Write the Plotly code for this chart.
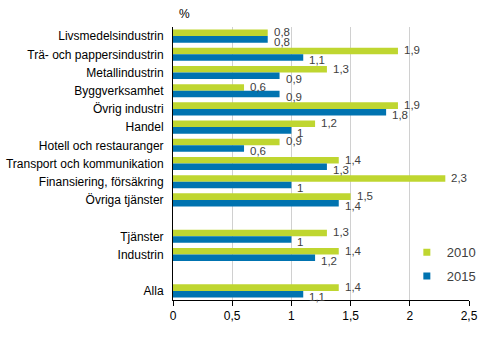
import plotly.graph_objects as go

categories = ["Livsmedelsindustrin", "Trä- och pappersindustrin", "Metallindustrin",
              "Byggverksamhet", "Övrig industri", "Handel", "Hotell och restauranger",
              "Transport och kommunikation", "Finansiering, försäkring", "Övriga tjänster",
              " ", "Tjänster", "Industrin", "  ", "Alla"]
v2010 = [0.8, 1.9, 1.3, 0.6, 1.9, 1.2, 0.9, 1.4, 2.3, 1.5, None, 1.3, 1.4, None, 1.4]
v2015 = [0.8, 1.1, 0.9, 0.9, 1.8, 1.0, 0.6, 1.3, 1.0, 1.4, None, 1.0, 1.2, None, 1.1]
tickvals_x = [0, 0.5, 1, 1.5, 2, 2.5]
ticktext_x = ["0", "0,5", "1", "1,5", "2", "2,5"]

COL2010 = "#bfd630"
COL2015 = "#0073b0"


def fmt(v):
    return ("%g" % v).replace(".", ",")


fig = go.Figure()
series = [("2010", v2010, COL2010, 4), ("2015", v2015, COL2015, -6)]
annotations = []
for name, vals, col, ys in series:
    fig.add_trace(go.Bar(
        y=categories, x=vals, name=name, orientation="h",
        marker=dict(color=col, line=dict(width=0)),
        showlegend=False, legendgroup=name,
    ))
    for cat, v in zip(categories, vals):
        if v is None:
            continue
        annotations.append(dict(
            x=v, y=cat, xref="x", yref="y", text=fmt(v), showarrow=False,
            xanchor="left", yanchor="middle", xshift=5, yshift=ys, borderpad=0,
            font=dict(family="Liberation Sans, Arial", size=11.5, color="#404040")))

for name, vals, col, ys in series:
    fig.add_trace(go.Scatter(
        x=[None], y=[None], mode="markers", name=name, legendgroup=name,
        marker=dict(symbol="square", size=7, color=col)))

annotations.append(dict(text="%", x=0.04, y=1.0, xref="paper", yref="paper",
                        xanchor="center", yanchor="bottom", showarrow=False,
                        yshift=4, font=dict(size=12, color="#000000")))

fig.update_layout(
    width=491, height=339,
    margin=dict(l=173, r=22, t=27, b=39, autoexpand=False),
    barmode="group", bargap=0.28, bargroupgap=0,
    plot_bgcolor="white", paper_bgcolor="white",
    font=dict(family="Liberation Sans, Arial", size=12, color="#000000"),
    xaxis=dict(range=[0, 2.5], tickvals=tickvals_x, ticktext=ticktext_x,
               showgrid=True, gridcolor="#d0d0d0", gridwidth=1,
               showline=True, linecolor="black", linewidth=1,
               ticks="outside", ticklen=5, tickcolor="black", zeroline=False,
               tickfont=dict(size=12, color="#000000")),
    yaxis=dict(type="category", categoryorder="array", categoryarray=categories,
               range=[len(categories) - 0.5, -0.5], showline=True,
               linecolor="black", linewidth=1,
               ticks="", ticklabelstandoff=6, showgrid=False,
               tickfont=dict(size=12, color="#000000")),
    legend=dict(x=0.79, y=0.23, xanchor="left", yanchor="top",
                traceorder="grouped", tracegroupgap=4, itemwidth=30,
                font=dict(size=13, color="#404040"), bgcolor="rgba(0,0,0,0)"),
    annotations=annotations,
)

fig.write_html("out.html")
